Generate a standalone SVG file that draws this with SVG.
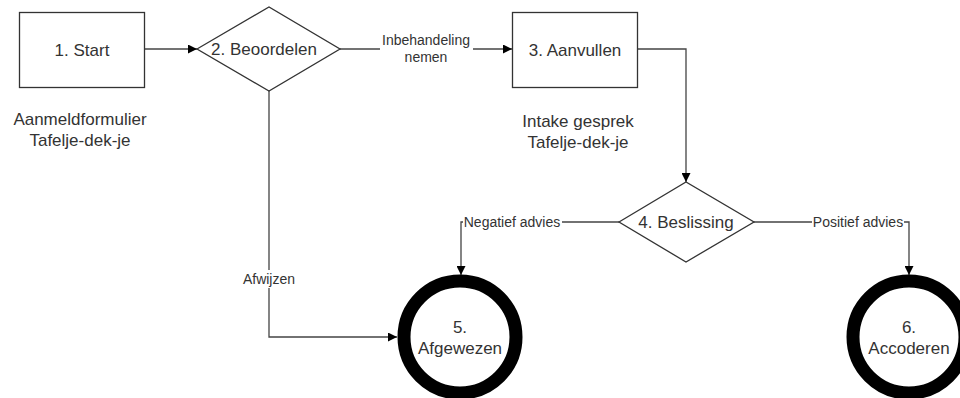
<svg xmlns="http://www.w3.org/2000/svg" width="960" height="398" viewBox="0 0 960 398">
<defs>
<style>
.box{fill:#fff;stroke:#333;stroke-width:1.3}
.end{fill:#fff;stroke:#000;stroke-width:13}
.t{font-family:"Liberation Sans",Arial,sans-serif;font-size:17px;fill:#333;text-anchor:middle}
.l{font-family:"Liberation Sans",Arial,sans-serif;font-size:14px;fill:#333;text-anchor:middle}
.c{fill:none;stroke:#444;stroke-width:1.3}
.bg{fill:#fff}
</style>
<marker id="ah" viewBox="0 0 10 10" refX="10" refY="5" markerWidth="9" markerHeight="9" markerUnits="userSpaceOnUse" orient="auto">
<path d="M0,0 L10,5 L0,10 z" fill="#000"/>
</marker>
</defs>
<rect width="960" height="398" fill="#fff"/>
<g id="connectors">
<path class="c" d="M145,49 L197,49" marker-end="url(#ah)"/>
<path class="c" d="M340,49 L512,49" marker-end="url(#ah)"/>
<path class="c" d="M638,49 L686,49 L686,182" marker-end="url(#ah)"/>
<path class="c" d="M619,222 L461,222 L461,275" marker-end="url(#ah)"/>
<path class="c" d="M754,222 L909,222 L909,275" marker-end="url(#ah)"/>
<path class="c" d="M269,91 L269,337 L397,337" marker-end="url(#ah)"/>
<rect class="bg" x="380" y="33" width="93" height="32"/>
<text class="l" x="426" y="45">Inbehandeling</text>
<text class="l" x="426" y="62">nemen</text>
<rect class="bg" x="463" y="212" width="99" height="18"/>
<text class="l" x="512" y="227">Negatief advies</text>
<rect class="bg" x="812" y="212" width="92" height="18"/>
<text class="l" x="858" y="227">Positief advies</text>
<rect class="bg" x="240" y="270" width="58" height="18"/>
<text class="l" x="269" y="284">Afwijzen</text>
</g>
<g id="n1">
<rect class="box" x="19.5" y="12.5" width="125" height="75"/>
<text class="t" x="82" y="56">1. Start</text>
<text class="t" x="80" y="125">Aanmeldformulier</text>
<text class="t" x="80" y="146">Tafelje-dek-je</text>
</g>
<g id="n2">
<polygon class="box" points="197,49 269,7 340,49 269,91"/>
<text class="t" x="264" y="55">2. Beoordelen</text>
</g>
<g id="n3">
<rect class="box" x="512.5" y="12.5" width="125" height="75"/>
<text class="t" x="575" y="56">3. Aanvullen</text>
<text class="t" x="578" y="127">Intake gesprek</text>
<text class="t" x="578" y="148">Tafelje-dek-je</text>
</g>
<g id="n4">
<polygon class="box" points="619,222 686,182 754,222 686,262"/>
<text class="t" x="686" y="228">4. Beslissing</text>
</g>
<g id="n5">
<circle class="end" cx="460" cy="337" r="56"/>
<text class="t" x="460" y="333">5.</text>
<text class="t" x="460" y="354">Afgewezen</text>
</g>
<g id="n6">
<circle class="end" cx="909" cy="337" r="56"/>
<text class="t" x="909" y="333">6.</text>
<text class="t" x="909" y="354">Accoderen</text>
</g>
</svg>
